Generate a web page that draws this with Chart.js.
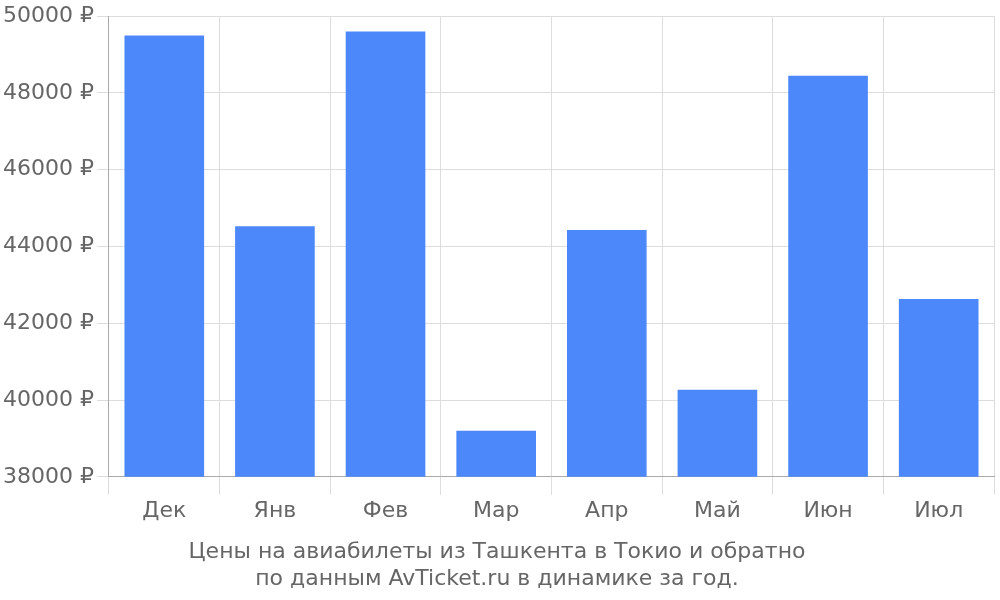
<!DOCTYPE html>
<html><head><meta charset="utf-8">
<script src="https://cdn.jsdelivr.net/npm/chart.js@4"></script>
<style>html,body{margin:0;padding:0;background:#fff}#w{width:1000px;height:600px}</style>
</head><body><div id="w"><canvas id="c"></canvas></div>
<script>
const categories = ["Дек","Янв","Фев","Мар","Апр","Май","Июн","Июл"];
const prices = [49500, 44530, 49600, 39200, 44430, 40270, 48450, 42630];
const titleLines = ["Цены на авиабилеты из Ташкента в Токио и обратно","по данным AvTicket.ru в динамике за год."];
Chart.defaults.font.family = "DejaVu Sans";
Chart.defaults.color = "#666";
new Chart(document.getElementById('c'), {
  type: 'bar',
  data: { labels: categories, datasets: [{ data: prices, backgroundColor: '#4d88fa', barPercentage: 0.9, categoryPercentage: 0.8 }] },
  options: {
    responsive: true, maintainAspectRatio: false, animation: false,
    layout: { padding: { right: 6, top: 4 } },
    plugins: { legend: { display: false }, tooltip: { enabled: false },
      title: { display: true, position: 'bottom', text: titleLines, font: { size: 22, weight: 'normal' }, color: '#666', padding: { top: 12, bottom: 8 }, lineHeight: 1.3 } },
    scales: {
      x: { grid: { color: '#ddd', tickLength: 18, offset: true }, border: { color: '#aaa' }, ticks: { font: { size: 22 } } },
      y: { min: 38000, max: 50000, grid: { color: '#ddd', tickLength: 12 }, border: { color: '#aaa' },
        ticks: { stepSize: 2000, font: { size: 22 }, callback: v => v + ' ₽' } }
    }
  }
});
</script></body></html>
